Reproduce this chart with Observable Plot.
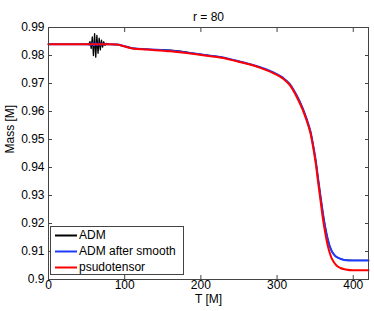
<!DOCTYPE html>
<html>
<head>
<meta charset="utf-8">
<script src="https://cdn.jsdelivr.net/npm/d3@7"></script>
<script src="https://cdn.jsdelivr.net/npm/@observablehq/plot@0.6"></script>
<style>
  body { margin: 0; background: white; }
  #wrap { position: relative; width: 374px; height: 311px; font-family: "Liberation Sans", Arial, sans-serif; }
  #legend { position: absolute; left: 50px; top: 226px; width: 134px; height: 49px; border: 1px solid #444; background: white; font-size: 12px; box-sizing: border-box; }
  .row { position: absolute; left: 0; height: 17px; line-height: 17px; white-space: nowrap; }
  .row svg { position: absolute; left: 4px; top: 7px; }
  .row span { position: absolute; left: 28px; top: 0; color: #000; }
</style>
</head>
<body>
<div id="wrap"></div>
<script>
// Series: psudotensor (red)
const T_pseudo = [0, 50, 80, 90, 100, 110, 130, 160, 186, 210, 225, 252, 278, 295, 308, 317, 326, 333, 339, 344, 348, 351, 354, 357, 359, 362, 365, 368, 371, 374, 378, 383, 390, 400, 420];
const M_pseudo = [0.9840, 0.9840, 0.9840, 0.9839, 0.9832, 0.9825, 0.9821, 0.9815, 0.9807, 0.9798, 0.9793, 0.9776, 0.9756, 0.9737, 0.9717, 0.9693, 0.9651, 0.9610, 0.9566, 0.9520, 0.9462, 0.9410, 0.9345, 0.9283, 0.9240, 0.9185, 0.9140, 0.9105, 0.9080, 0.9064, 0.9050, 0.9041, 0.9036, 0.9033, 0.9033];

// Series: ADM after smooth (blue)
const T_smooth = [0, 50, 56, 58, 60, 62, 64, 66, 68, 70, 74, 80, 90, 100, 110, 130, 160, 186, 210, 225, 252, 278, 295, 308, 317, 326, 333, 339, 344, 348, 351, 354, 357, 360, 363, 366, 369, 372, 376, 381, 388, 400, 420];
const M_smooth = [0.9840, 0.9840, 0.9838, 0.9844, 0.9836, 0.9845, 0.9837, 0.9843, 0.9838, 0.9842, 0.9840, 0.9840, 0.9839, 0.9833, 0.9826, 0.9822, 0.9817, 0.9809, 0.9800, 0.9795, 0.9778, 0.9758, 0.9740, 0.9720, 0.9697, 0.9656, 0.9616, 0.9572, 0.9527, 0.9470, 0.9420, 0.9358, 0.9298, 0.9240, 0.9190, 0.9150, 0.9120, 0.9100, 0.9085, 0.9076, 0.9070, 0.9068, 0.9068];

// Series: ADM (black)
const T_adm = [0, 50, 53, 54.5, 56, 57.5, 59, 60.5, 62, 63.5, 65, 66.5, 68, 69.5, 71, 72.5, 74, 76, 80, 90, 100, 110, 130, 150, 160, 170, 180, 186, 210, 225, 252, 278, 295, 308, 317, 326, 333, 339, 344, 348, 351, 354, 357, 360, 363, 366, 369, 372, 376, 381, 388, 400, 420];
const M_adm = [0.9840, 0.9840, 0.9841, 0.9850, 0.9825, 0.9866, 0.9800, 0.9878, 0.9794, 0.9872, 0.9808, 0.9862, 0.9820, 0.9855, 0.9830, 0.9849, 0.9836, 0.9843, 0.9840, 0.9839, 0.9833, 0.9826, 0.9822, 0.9820, 0.9819, 0.9816, 0.9813, 0.9809, 0.9800, 0.9795, 0.9778, 0.9758, 0.9740, 0.9720, 0.9697, 0.9656, 0.9616, 0.9572, 0.9527, 0.9470, 0.9420, 0.9358, 0.9298, 0.9240, 0.9190, 0.9150, 0.9120, 0.9100, 0.9085, 0.9076, 0.9070, 0.9068, 0.9068];

const seriesNames = ["ADM", "ADM after smooth", "psudotensor"];
const seriesColors = ["#000000", "#1d3cff", "#ff0000"];

const xTicks = [0, 100, 200, 300, 400];
const xTickLabels = ["0", "100", "200", "300", "400"];
const yTicks = [0.9, 0.91, 0.92, 0.93, 0.94, 0.95, 0.96, 0.97, 0.98, 0.99];
const yTickLabels = ["0.9", "0.91", "0.92", "0.93", "0.94", "0.95", "0.96", "0.97", "0.98", "0.99"];

const titleText = "r = 80";
const xLabel = "T [M]";
const yLabel = "Mass [M]";

const toRows = (T, M) => T.map((t, i) => ({T: t, M: M[i]}));
const adm = toRows(T_adm, M_adm);
const smooth = toRows(T_smooth, M_smooth);
const pseudo = toRows(T_pseudo, M_pseudo);

const axisColor = "#444";

const chart = Plot.plot({
  width: 374,
  height: 311,
  marginLeft: 48,
  marginRight: 6,
  marginTop: 27,
  marginBottom: 32,
  style: {fontFamily: '"Liberation Sans", Arial, sans-serif', fontSize: "12px", background: "white", color: "black"},
  x: {domain: [0, 420]},
  y: {domain: [0.9, 0.99]},
  marks: [
    Plot.line(adm, {x: "T", y: "M", stroke: seriesColors[0], strokeWidth: 1.3}),
    Plot.line(smooth, {x: "T", y: "M", stroke: seriesColors[1], strokeWidth: 2, curve: "monotone-x"}),
    Plot.line(pseudo, {x: "T", y: "M", stroke: seriesColors[2], strokeWidth: 2, curve: "monotone-x"}),
    Plot.frame({stroke: axisColor}),
    Plot.axisX({anchor: "bottom", ticks: xTicks, tickFormat: d => xTickLabels[xTicks.indexOf(d)], tickSize: -4, tickPadding: 5, label: null, stroke: axisColor, fill: "black"}),
    Plot.axisX({anchor: "top", ticks: xTicks, tickFormat: () => "", tickSize: -4, label: null, stroke: axisColor}),
    Plot.axisY({anchor: "left", ticks: yTicks, tickFormat: d => yTickLabels[yTicks.indexOf(d)], tickSize: -4, tickPadding: 8, label: null, stroke: axisColor, fill: "black"}),
    Plot.axisY({anchor: "right", ticks: yTicks, tickFormat: () => "", tickSize: -4, label: null, stroke: axisColor}),
    Plot.text([titleText], {text: d => d, frameAnchor: "top", dy: -15, fontSize: 12, fill: "black"}),
    Plot.text([xLabel], {text: d => d, frameAnchor: "bottom", dy: 23, fontSize: 12, fill: "black"}),
    Plot.text([yLabel], {text: d => d, frameAnchor: "left", dx: -38, rotate: -90, fontSize: 12, fill: "black"})
  ]
});

const wrap = document.getElementById("wrap");
wrap.appendChild(chart);

const legend = document.createElement("div");
legend.id = "legend";
seriesNames.forEach((name, i) => {
  const row = document.createElement("div");
  row.className = "row";
  row.style.top = (i * 16) + "px";
  row.innerHTML = `<svg width="22" height="3"><line x1="0" y1="1.5" x2="22" y2="1.5" stroke="${seriesColors[i]}" stroke-width="2"/></svg><span>${name}</span>`;
  legend.appendChild(row);
});
wrap.appendChild(legend);
</script>
</body>
</html>
